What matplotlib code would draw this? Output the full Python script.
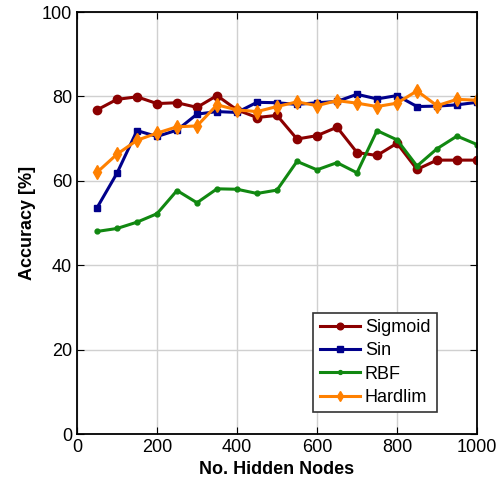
import numpy as np
import matplotlib
matplotlib.use("Agg")
import matplotlib.pyplot as plt

plt.rcParams['font.family'] = ['Liberation Sans', 'DejaVu Sans']

nodes = np.arange(50, 1001, 50)
sigmoid = [76.8, 79.3, 79.9, 78.3, 78.5, 77.4, 80.2, 76.8, 75.0, 75.5,
           69.9, 70.7, 72.7, 66.7, 66.0, 68.9, 62.7, 64.9, 64.9, 64.9]
sin = [53.6, 61.8, 71.9, 70.5, 72.0, 75.8, 76.4, 76.2, 78.6, 78.5,
       78.1, 78.5, 78.8, 80.5, 79.4, 80.2, 77.6, 77.7, 78.0, 78.6]
rbf = [48.0, 48.7, 50.2, 52.2, 57.7, 54.8, 58.1, 58.0, 57.0, 57.8,
       64.6, 62.6, 64.3, 61.9, 71.9, 69.7, 63.5, 67.6, 70.6, 68.6]
hardlim = [62.0, 66.3, 69.6, 71.3, 72.8, 73.0, 78.0, 76.8, 76.4, 77.6,
           78.7, 77.8, 79.0, 78.4, 77.6, 78.4, 81.3, 77.8, 79.3, 79.1]

fig = plt.figure(figsize=(4.99, 4.98), dpi=100)
ax = fig.add_axes([77/499, 64/498, 400/499, 422/498])

ax.plot(nodes, sigmoid, color='#8b0000', marker='o', ms=6, lw=2.2, label='Sigmoid')
ax.plot(nodes, sin, color='#00008b', marker='s', ms=5, lw=2.2, label='Sin')
ax.plot(nodes, rbf, color='#118811', marker='o', ms=3.5, lw=2.2, label='RBF')
ax.plot(nodes, hardlim, color='#ff8000', marker='d', ms=7, lw=2.2, label='Hardlim')

ax.set_xlim(0, 1000)
ax.set_ylim(0, 100)
ax.set_xticks(range(0, 1001, 200))
ax.set_yticks(range(0, 101, 20))
ax.grid(True, color='#d0d0d0', lw=1)
ax.set_axisbelow(True)
ax.tick_params(direction='in', top=True, right=True, labelsize=13, length=5)
for s in ax.spines.values():
    s.set_linewidth(1.3)
ax.set_xlabel('No. Hidden Nodes', fontsize=13, fontweight='bold')
ax.set_ylabel('Accuracy [%]', fontsize=13, fontweight='bold')

leg = ax.legend(loc='lower right', bbox_to_anchor=(0.922, 0.03), fontsize=13,
                fancybox=False, edgecolor='#333333', framealpha=1,
                handlelength=2.2, handletextpad=0.3, borderpad=0.35, labelspacing=0.35,
                markerscale=0.8)
leg.get_frame().set_linewidth(1.2)

fig.savefig('out.png', dpi=100)
